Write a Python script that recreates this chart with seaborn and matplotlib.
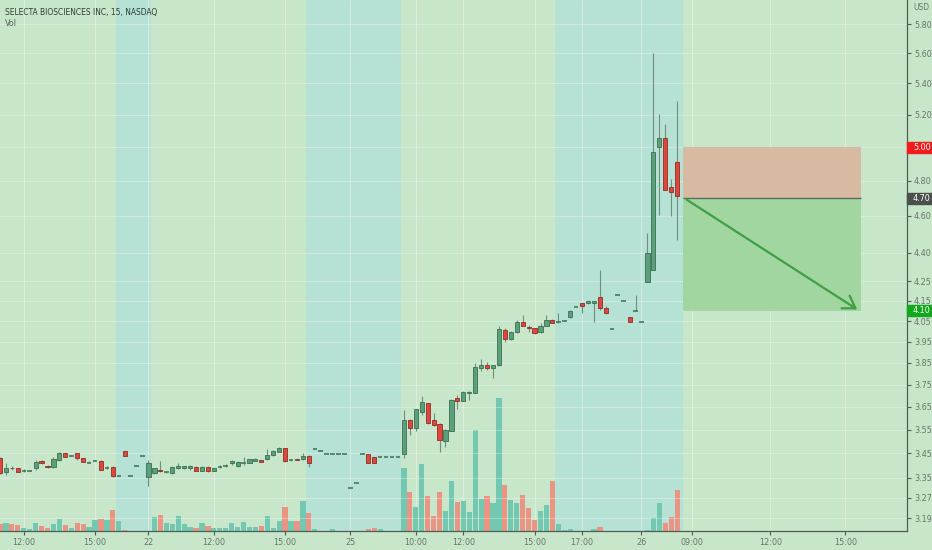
import numpy as np
import pandas as pd
import seaborn as sns
import matplotlib.pyplot as plt
from matplotlib.ticker import NullLocator, NullFormatter
from matplotlib.patches import Rectangle

# --- data: 15 min bars, one slot per bar ---
opens = [3.430, 3.375, 3.392, 3.389, 3.378, 3.378, 3.389, 3.419, 3.397, 3.393,
         3.423, 3.451, 3.441, 3.451, 3.430, 3.412, 3.419, 3.419, 3.391, 3.396,
         3.357, 3.461, 3.357, 3.398, 3.438, 3.355, 3.368, 3.382, 3.372, 3.368,
         3.391, 3.389, 3.389, 3.396, 3.378, 3.396, 3.378, 3.396, 3.399, 3.409,
         3.398, 3.409, 3.412, 3.420, 3.423, 3.427, 3.442, 3.458, 3.472, 3.423,
         3.427, 3.427, 3.440, 3.467, 3.462, 3.449, 3.449, 3.449, 3.449, 3.310,
         3.328, 3.449, 3.449, 3.437, 3.437, 3.437, 3.437, 3.437, 3.448, 3.593,
         3.557, 3.629, 3.666, 3.593, 3.575, 3.504, 3.547, 3.690, 3.678, 3.711,
         3.714, 3.824, 3.838, 3.824, 3.838, 4.007, 3.962, 3.999, 4.047, 4.020,
         4.015, 3.999, 4.028, 4.055, 4.047, 4.049, 4.069, 4.118, 4.138, 4.138,
         4.138, 4.172, 4.113, 4.010, 4.180, 4.150, 4.068, 4.101, 4.047, 4.248,
         4.308, 4.998, 5.053, 4.762, 4.912]
highs = [3.435, 3.409, 3.398, 3.392, 3.385, 3.380, 3.423, 3.421, 3.402, 3.437,
         3.458, 3.454, 3.444, 3.454, 3.432, 3.418, 3.421, 3.421, 3.398, 3.398,
         3.357, 3.461, 3.357, 3.398, 3.438, 3.423, 3.392, 3.420, 3.374, 3.398,
         3.409, 3.400, 3.402, 3.398, 3.398, 3.398, 3.392, 3.402, 3.406, 3.423,
         3.419, 3.437, 3.429, 3.430, 3.425, 3.469, 3.465, 3.478, 3.475, 3.425,
         3.429, 3.451, 3.442, 3.467, 3.462, 3.449, 3.449, 3.449, 3.449, 3.310,
         3.328, 3.449, 3.449, 3.437, 3.437, 3.437, 3.437, 3.437, 3.636, 3.595,
         3.642, 3.699, 3.668, 3.622, 3.578, 3.553, 3.684, 3.703, 3.720, 3.721,
         3.849, 3.868, 3.855, 3.840, 4.026, 4.015, 4.000, 4.055, 4.080, 4.031,
         4.018, 4.039, 4.080, 4.060, 4.091, 4.049, 4.103, 4.118, 4.140, 4.150,
         4.152, 4.310, 4.123, 4.010, 4.180, 4.150, 4.070, 4.180, 4.047, 4.504,
         5.600, 5.204, 5.141, 4.808, 5.286]
lows = [3.365, 3.362, 3.380, 3.372, 3.372, 3.376, 3.380, 3.407, 3.389, 3.389,
        3.420, 3.435, 3.438, 3.424, 3.414, 3.410, 3.418, 3.380, 3.385, 3.355,
        3.357, 3.438, 3.357, 3.398, 3.438, 3.317, 3.365, 3.372, 3.370, 3.366,
        3.385, 3.385, 3.380, 3.376, 3.376, 3.375, 3.376, 3.389, 3.394, 3.404,
        3.396, 3.402, 3.410, 3.418, 3.414, 3.423, 3.440, 3.456, 3.416, 3.420,
        3.422, 3.423, 3.396, 3.467, 3.462, 3.449, 3.449, 3.449, 3.449, 3.310,
        3.328, 3.449, 3.409, 3.409, 3.437, 3.437, 3.437, 3.437, 3.430, 3.528,
        3.547, 3.615, 3.575, 3.567, 3.458, 3.476, 3.545, 3.641, 3.675, 3.681,
        3.711, 3.813, 3.817, 3.778, 3.835, 3.950, 3.958, 3.994, 4.026, 3.999,
        3.988, 3.994, 4.026, 4.040, 4.040, 4.049, 4.067, 4.118, 4.089, 4.136,
        4.044, 4.105, 4.085, 4.010, 4.180, 4.150, 4.045, 4.101, 4.047, 4.248,
        4.308, 4.605, 4.746, 4.599, 4.468]
closes = [3.368, 3.389, 3.388, 3.375, 3.378, 3.378, 3.416, 3.409, 3.396, 3.426,
          3.454, 3.437, 3.441, 3.430, 3.416, 3.412, 3.419, 3.382, 3.391, 3.357,
          3.357, 3.438, 3.357, 3.398, 3.438, 3.409, 3.389, 3.377, 3.372, 3.396,
          3.398, 3.398, 3.398, 3.378, 3.396, 3.378, 3.389, 3.396, 3.399, 3.419,
          3.416, 3.409, 3.427, 3.427, 3.416, 3.444, 3.461, 3.472, 3.419, 3.423,
          3.424, 3.440, 3.409, 3.467, 3.462, 3.449, 3.449, 3.449, 3.449, 3.310,
          3.328, 3.449, 3.409, 3.409, 3.437, 3.437, 3.437, 3.437, 3.593, 3.557,
          3.639, 3.670, 3.578, 3.571, 3.507, 3.550, 3.681, 3.678, 3.716, 3.718,
          3.829, 3.838, 3.827, 3.838, 4.010, 3.963, 3.996, 4.044, 4.028, 4.016,
          3.990, 4.028, 4.055, 4.042, 4.047, 4.049, 4.101, 4.118, 4.125, 4.148,
          4.150, 4.113, 4.088, 4.010, 4.180, 4.150, 4.047, 4.101, 4.047, 4.400,
          4.968, 5.053, 4.746, 4.737, 4.712]
volumes = [7, 8, 7, 6, 3, 2, 8, 5, 3, 7,
           12, 6, 3, 8, 7, 4, 11, 12, 11, 21,
           10, 0.7, 0.3, 0.3, 0.3, 0.5, 14, 16, 8, 7,
           15, 7, 4, 3, 8, 5, 3, 3, 3, 8,
           4, 9, 4, 4, 5, 15, 3, 10, 24, 10,
           10, 30, 18, 1.7, 0.5, 0.5, 2, 0.5, 0.5, 0.5,
           0.5, 0.5, 2.3, 3.3, 2, 0.5, 0.5, 0.5, 63, 39,
           24, 67, 35, 15, 39, 20, 50, 29, 30, 19,
           101, 32, 35, 28, 133, 46, 31, 28, 36, 23,
           11, 20, 26, 50, 7, 1, 2, 0.5, 0.5, 0.5,
           2, 4, 0.5, 0.3, 0.3, 0.3, 0.5, 0.3, 0.3, 1,
           13, 28, 8, 14, 41]

time_tick_slots = [4, 16, 25, 36, 48, 59, 70, 78, 90, 98, 108, 116.5, 129.7, 142.3]
time_tick_labels = ["12:00", "15:00", "22", "12:00", "15:00", "25", "10:00", "12:00",
                    "15:00", "17:00", "26", "09:00", "12:00", "15:00"]
price_ticks = [5.80, 5.60, 5.40, 5.20, 5.00, 4.80, 4.60, 4.40, 4.25, 4.15, 4.05,
               3.95, 3.85, 3.75, 3.65, 3.55, 3.45, 3.35, 3.27, 3.19]
session_starts = [19.5, 51.5, 93.5]
session_ends = [25.5, 67.5, 115.0]

stop_price = 5.00
entry_price = 4.70
target_price = 4.10
trade_start, trade_end = 115.0, 145.0

# --- styling ---
bg = "#c8e6c9"
band = "#b6e1d5"
up_body, up_edge = "#5b9f7b", "#3a6f52"
dn_body, dn_edge = "#e0473c", "#8e2e26"
wick = "#6f8f7e"
vol_up, vol_dn = "#72c8b1", "#ea9484"
axis_col = "#4f5d55"
text_col = "#66766c"

sns.set_theme(style="white")
plt.rcParams['font.family'] = ['DejaVu Sans']
plt.rcParams['font.stretch'] = 'condensed'

df = pd.DataFrame({"slot": np.arange(len(opens)), "open": opens, "high": highs,
                   "low": lows, "close": closes, "volume": volumes})
df["dir"] = np.where(df["close"] >= df["open"], "up", "down")

fig = plt.figure(figsize=(9.32, 5.5), dpi=100, facecolor=bg)
rect = [0, 19 / 550, 907 / 932, 531 / 550]
ax_vol = fig.add_axes(rect)
ax_vol.set_facecolor(bg)

for s, e in zip(session_starts, session_ends):
    ax_vol.axvspan(s, e, color=band, zorder=0, lw=0)

sns.barplot(data=df, x="slot", y="volume", hue="dir", palette={"up": vol_up, "down": vol_dn},
            native_scale=True, dodge=False, width=0.88, errorbar=None, legend=False,
            saturation=1, ax=ax_vol, zorder=2, linewidth=0)
ax_vol.set_ylim(0, max(volumes) * 531 / 133)
ax_vol.set_xlabel("")
ax_vol.set_ylabel("")
ax_vol.set_yticks([])
ax_vol.set_xticks(time_tick_slots, time_tick_labels)
ax_vol.tick_params(axis="x", bottom=True, length=3, width=0.8, color=axis_col,
                   labelsize=6.5, labelcolor=text_col, pad=2)
ax_vol.grid(axis="x", color="white", alpha=0.35, lw=0.8)
ax_vol.set_axisbelow(True)
for side in ["top", "left", "right"]:
    ax_vol.spines[side].set_visible(False)
ax_vol.spines["bottom"].set_color(axis_col)
ax_vol.spines["bottom"].set_linewidth(0.9)

ax = ax_vol.twinx()
ax.patch.set_visible(False)
ax.set_yscale("log")

# candles
ax.vlines(df["slot"], df["low"], df["high"], color=wick, lw=0.8, zorder=3)
body = df[df["open"] != df["close"]]
top = body[["open", "close"]].max(axis=1)
bot = body[["open", "close"]].min(axis=1)
cols = np.where(body["dir"] == "up", up_body, dn_body)
edges = np.where(body["dir"] == "up", up_edge, dn_edge)
ax.bar(body["slot"], top - bot, bottom=bot, width=0.7, color=cols, edgecolor=edges,
       linewidth=0.6, zorder=4)
doji = df[df["open"] == df["close"]]
ax.hlines(doji["close"], doji["slot"] - 0.38, doji["slot"] + 0.38, color=up_edge, lw=1.1, zorder=4)

# short position tool
ax.fill_between([trade_start, trade_end], entry_price, stop_price, color="#d8b9a2", lw=0, zorder=2)
ax.fill_between([trade_start, trade_end], target_price, entry_price, color="#a2d6a0", lw=0, zorder=2)
ax.hlines(entry_price, trade_start, trade_end, color="#52705c", lw=1.0, zorder=3)
ax.annotate("", xy=(trade_end - 0.3, target_price), xytext=(trade_start + 0.2, entry_price),
            arrowprops=dict(arrowstyle="->,head_length=0.7,head_width=0.45",
                            color="#3f9f46", lw=1.6), zorder=5)

ax.set_ylim(3.141, 5.974)
ax.set_xlim(0.0, 152.7)
ax_vol.set_xlim(0.0, 152.7)
ax.set_yticks(price_ticks, [f"{p:.2f}" for p in price_ticks])
ax.yaxis.set_minor_locator(NullLocator())
ax.yaxis.set_minor_formatter(NullFormatter())
ax.tick_params(axis="y", right=True, length=3, width=0.8, color=axis_col,
               labelsize=6.5, labelcolor=text_col, pad=2)
ax.grid(axis="y", color="white", alpha=0.3, lw=0.8)
ax.set_axisbelow(True)
for side in ["top", "left", "bottom"]:
    ax.spines[side].set_visible(False)
ax.spines["right"].set_color(axis_col)
ax.spines["right"].set_linewidth(0.9)

# price tags on the scale
to_fig = fig.transFigure.inverted()
for price, colour in [(stop_price, "#f21b1b"), (entry_price, "#4b504d"), (target_price, "#12a81c")]:
    yf = to_fig.transform(ax.transData.transform((0, price)))[1]
    fig.patches.append(Rectangle((907 / 932, yf - 5.5 / 550), 25 / 932, 11 / 550,
                                 transform=fig.transFigure, color=colour, zorder=10))
    fig.text(913 / 932, yf, f"{price:.2f}", color="white", fontsize=6.5,
             va="center", ha="left", zorder=11)

fig.text(5 / 932, 1 - 12 / 550, "SELECTA BIOSCIENCES INC, 15, NASDAQ", fontsize=6.0,
         color="#2f3d35", va="center", ha="left")
fig.text(5 / 932, 1 - 24 / 550, "Vol", fontsize=6.5, color="#56665c", va="center", ha="left")
fig.text(913 / 932, 1 - 8 / 550, "USD", fontsize=6, color=text_col, va="center", ha="left")

fig.savefig("out.png", dpi=100, facecolor=bg)
